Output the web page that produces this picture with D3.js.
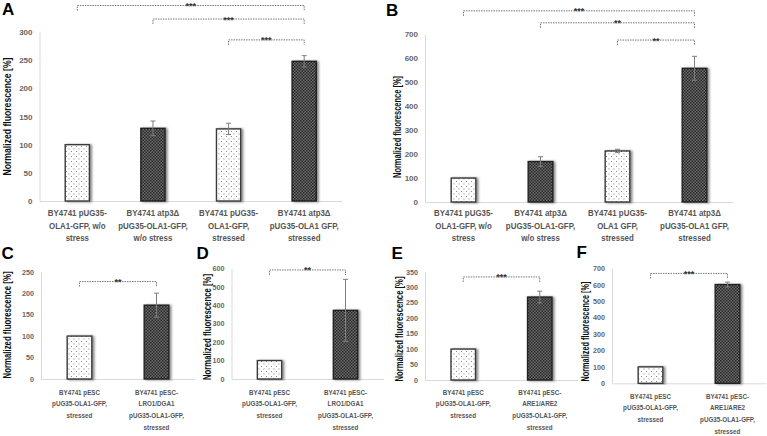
<!DOCTYPE html>
<html><head><meta charset="utf-8">
<script src="https://cdn.jsdelivr.net/npm/d3@7"></script>
<style>
html,body{margin:0;padding:0;background:#fff;}
svg{display:block;}
</style></head>
<body>
<svg id="chart" width="767" height="436"></svg>
<script>
// ---------------- DATA ----------------
const catsA = [["BY4741 pUG35-","OLA1-GFP, w/o","stress"],["BY4741 atp3Δ","pUG35-OLA1-GFP,","w/o stress"],["BY4741 pUG35-","OLA1-GFP,","stressed"],["BY4741 atp3Δ","pUG35-OLA1 GFP,","stressed"]];
const valsA = [100, 129, 128, 248];
const errA  = [0, 13, 10, 10];
const ticksA = [0, 50, 100, 150, 200, 250, 300];
const sigA = [[0, 3, "***", 347], [1, 3, "***", 323], [2, 3, "***", 286]];

const catsB = [["BY4741 pUG35-","OLA1-GFP, w/o","stress"],["BY4741 atp3Δ","pUG35-OLA1-GFP,","w/o stress"],["BY4741 pUG35-","OLA1 GFP,","stressed"],["BY4741 atp3Δ","pUG35-OLA1 GFP,","stressed"]];
const valsB = [100, 169, 213, 558];
const errB  = [0, 20, 7, 50];
const ticksB = [0, 100, 200, 300, 400, 500, 600, 700];
const sigB = [[0, 3, "***", 798], [1, 3, "**", 748], [2, 3, "**", 676]];

const catsC = [["BY4741 pESC","pUG35-OLA1-GFP,","stressed"],["BY4741 pESC-","LRO1/DGA1","pUG35-OLA1-GFP,","stressed"]];
const valsC = [100, 172];
const errC  = [0, 28];
const ticksC = [0, 50, 100, 150, 200, 250];
const sigC = [[0, 1, "**", 227]];

const catsD = [["BY4741 pESC","pUG35-OLA1-GFP,","stressed"],["BY4741 pESC-","LRO1/DGA1","pUG35-OLA1-GFP,","stressed"]];
const valsD = [100, 372];
const errD  = [0, 168];
const ticksD = [0, 100, 200, 300, 400, 500, 600];
const sigD = [[0, 1, "**", 591]];

const catsE = [["BY4741 pESC","pUG35-OLA1-GFP,","stressed"],["BY4741 pESC-","ARE1/ARE2","pUG35-OLA1-GFP,","stressed"]];
const valsE = [100, 268];
const errE  = [0, 19];
const ticksE = [0, 50, 100, 150, 200, 250, 300, 350];
const sigE = [[0, 1, "***", 333]];

const catsF = [["BY4741 pESC","pUG35-OLA1-GFP,","stressed"],["BY4741 pESC-","ARE1/ARE2","pUG35-OLA1-GFP,","stressed"]];
const valsF = [100, 601];
const errF  = [0, 15];
const ticksF = [0, 100, 200, 300, 400, 500, 600, 700];
const sigF = [[0, 1, "***", 669]];

const yTitle = "Normalized fluorescence [%]";

// ---------------- LAYOUT ----------------
const layout = [
  {letter:"A", cats:catsA, vals:valsA, err:errA, ticks:ticksA, sig:sigA, x0:39.5, x1:342, yTop:32, y0:201, lx:2, ly:14.5, tx:10.5, tLen:118, tCy:116.5, tickFs:8, labFs:9.2, lab0:216.3, labLH:12.6, titleFs:11.2},
  {letter:"B", cats:catsB, vals:valsB, err:errB, ticks:ticksB, sig:sigB, x0:425, x1:733, yTop:34.3, y0:202, lx:386, ly:15.5, tx:400.5, tLen:102, tCy:127, tickFs:8, labFs:9.2, lab0:216.3, labLH:12.6, titleFs:10.5},
  {letter:"C", cats:catsC, vals:valsC, err:errC, ticks:ticksC, sig:sigC, x0:41, x1:195, yTop:271.7, y0:379, lx:1.5, ly:258.5, tx:11, tLen:107, tCy:325, tickFs:7.2, labFs:7.3, lab0:394.6, labLH:11.7, titleFs:10.5},
  {letter:"D", cats:catsD, vals:valsD, err:errD, ticks:ticksD, sig:sigD, x0:231.5, x1:383.5, yTop:268.3, y0:379, lx:196.5, ly:259, tx:210.5, tLen:106, tCy:327, tickFs:7.2, labFs:7.3, lab0:394.6, labLH:11.7, titleFs:10.5},
  {letter:"E", cats:catsE, vals:valsE, err:errE, ticks:ticksE, sig:sigE, x0:425, x1:578, yTop:271.7, y0:380, lx:391.5, ly:258.5, tx:402.5, tLen:105, tCy:329, tickFs:7.2, labFs:7.3, lab0:394.6, labLH:11.7, titleFs:10.5},
  {letter:"F", cats:catsF, vals:valsF, err:errF, ticks:ticksF, sig:sigF, x0:612, x1:766, yTop:268.3, y0:383.3, lx:576.5, ly:258, tx:588.5, tLen:100, tCy:331.5, tickFs:7.2, labFs:7.3, lab0:398.6, labLH:11.7, titleFs:10.5}
];
const LABEL_SX = 0.86;

const FONT = "'Liberation Sans', Arial, sans-serif";
const svg = d3.select("#chart");
svg.append("rect").attr("width",767).attr("height",436).attr("fill","#fff");

// ---------------- DEFS ----------------
const defs = svg.append("defs");
const pl = defs.append("pattern").attr("id","dots").attr("patternUnits","userSpaceOnUse")
  .attr("width",5).attr("height",5);
pl.append("rect").attr("width",5).attr("height",5).attr("fill","#fff");
pl.append("rect").attr("x",1).attr("y",1).attr("width",0.9).attr("height",0.9).attr("fill","#6a6a6a");
pl.append("rect").attr("x",3.5).attr("y",3.5).attr("width",0.9).attr("height",0.9).attr("fill","#6a6a6a");

const pd = defs.append("pattern").attr("id","check").attr("patternUnits","userSpaceOnUse")
  .attr("width",3).attr("height",3);
pd.append("rect").attr("width",3).attr("height",3).attr("fill","#6e6e6e");
pd.append("rect").attr("x",0).attr("y",0).attr("width",1.5).attr("height",1.5).attr("fill","#262626");
pd.append("rect").attr("x",1.5).attr("y",1.5).attr("width",1.5).attr("height",1.5).attr("fill","#262626");

const f = defs.append("filter").attr("id","shadow").attr("x","-30%").attr("y","-10%").attr("width","160%").attr("height","120%");
f.append("feDropShadow").attr("dx",2).attr("dy",0.5).attr("stdDeviation",1).attr("flood-color","#000").attr("flood-opacity",0.45);

// ---------------- DRAW ----------------
layout.forEach(P => {
  const g = svg.append("g");
  const idx = P.cats.map((c,i)=>i);
  const x = d3.scaleBand().domain(idx).range([P.x0, P.x1]).paddingInner(0.68).paddingOuter(0.34);
  const yMax = P.ticks[P.ticks.length-1];
  const y = d3.scaleLinear().domain([0, yMax]).range([P.y0, P.yTop]);
  const cx = i => x(i) + x.bandwidth()/2;

  // y axis
  const ya = g.append("g").attr("transform",`translate(${P.x0},0)`)
    .call(d3.axisLeft(y).tickValues(P.ticks).tickSize(0).tickPadding(7).tickFormat(d3.format("d")));
  ya.select(".domain").attr("stroke","#d9d9d9").attr("stroke-width",1);
  ya.selectAll("text").attr("font-family",FONT).attr("font-weight","bold").attr("font-size",P.tickFs).attr("fill","#666");

  // x axis line
  const xa = g.append("g").attr("transform",`translate(0,${P.y0})`)
    .call(d3.axisBottom(x).tickSize(0).tickFormat(""));
  xa.select(".domain").attr("stroke","#d9d9d9").attr("stroke-width",1);

  // bars
  g.selectAll("rect.bar").data(P.vals).join("rect").attr("class","bar")
    .attr("x",(d,i)=>x(i)).attr("width",x.bandwidth())
    .attr("y",d=>y(d)).attr("height",d=>y(0)-y(d))
    .attr("fill",(d,i)=> i%2===0 ? "url(#dots)" : "url(#check)")
    .attr("stroke",(d,i)=> i%2===0 ? "#3a3a3a" : "#222")
    .attr("stroke-width",1.4)
    .attr("filter","url(#shadow)");

  // error bars
  P.vals.forEach((v,i) => {
    const e = P.err[i];
    if (!e) return;
    const c = cx(i);
    const eg = g.append("g").attr("stroke","#7f7f7f").attr("stroke-width",1);
    eg.append("line").attr("x1",c).attr("x2",c).attr("y1",y(v+e)).attr("y2",y(Math.max(0,v-e)));
    eg.append("line").attr("x1",c-2.5).attr("x2",c+2.5).attr("y1",y(v+e)).attr("y2",y(v+e));
    eg.append("line").attr("x1",c-2.5).attr("x2",c+2.5).attr("y1",y(v-e)).attr("y2",y(v-e));
  });

  // significance brackets
  P.sig.forEach(s => {
    const [a,b,lab,lev] = s;
    const yy = y(lev);
    const xa1 = cx(a), xb1 = cx(b);
    g.append("path")
      .attr("d",`M${xa1},${yy+5}V${yy}H${xb1}V${yy+5}`)
      .attr("fill","none").attr("stroke","#777").attr("stroke-width",1)
      .attr("stroke-dasharray","1.5,1");
    g.append("text").attr("x",(xa1+xb1)/2).attr("y",yy+3.5)
      .attr("text-anchor","middle").attr("font-family",FONT).attr("font-weight","bold")
      .attr("font-size",9).attr("fill","#333").text(lab);
  });

  // x labels (slightly condensed horizontally, like the original narrow face)
  P.cats.forEach((lines,i) => {
    const t = g.append("text").attr("transform",`translate(${cx(i)},0) scale(${LABEL_SX},1)`)
      .attr("text-anchor","middle").attr("font-family",FONT)
      .attr("font-weight","bold").attr("font-size",P.labFs).attr("fill","#555");
    lines.forEach((ln,k) => {
      t.append("tspan").attr("x",0).attr("y",P.lab0 + k*P.labLH).text(ln);
    });
  });

  // y title
  g.append("text").attr("transform",`translate(${P.tx},${P.tCy}) rotate(-90)`)
    .attr("text-anchor","middle").attr("font-family",FONT).attr("font-weight","bold")
    .attr("font-size",P.titleFs).attr("fill","#111")
    .attr("textLength",P.tLen).attr("lengthAdjust","spacingAndGlyphs").text(yTitle);

  // panel letter
  g.append("text").attr("x",P.lx).attr("y",P.ly).attr("font-family",FONT)
    .attr("font-weight","bold").attr("font-size",17).attr("fill","#000").text(P.letter);
});
</script>
</body></html>
